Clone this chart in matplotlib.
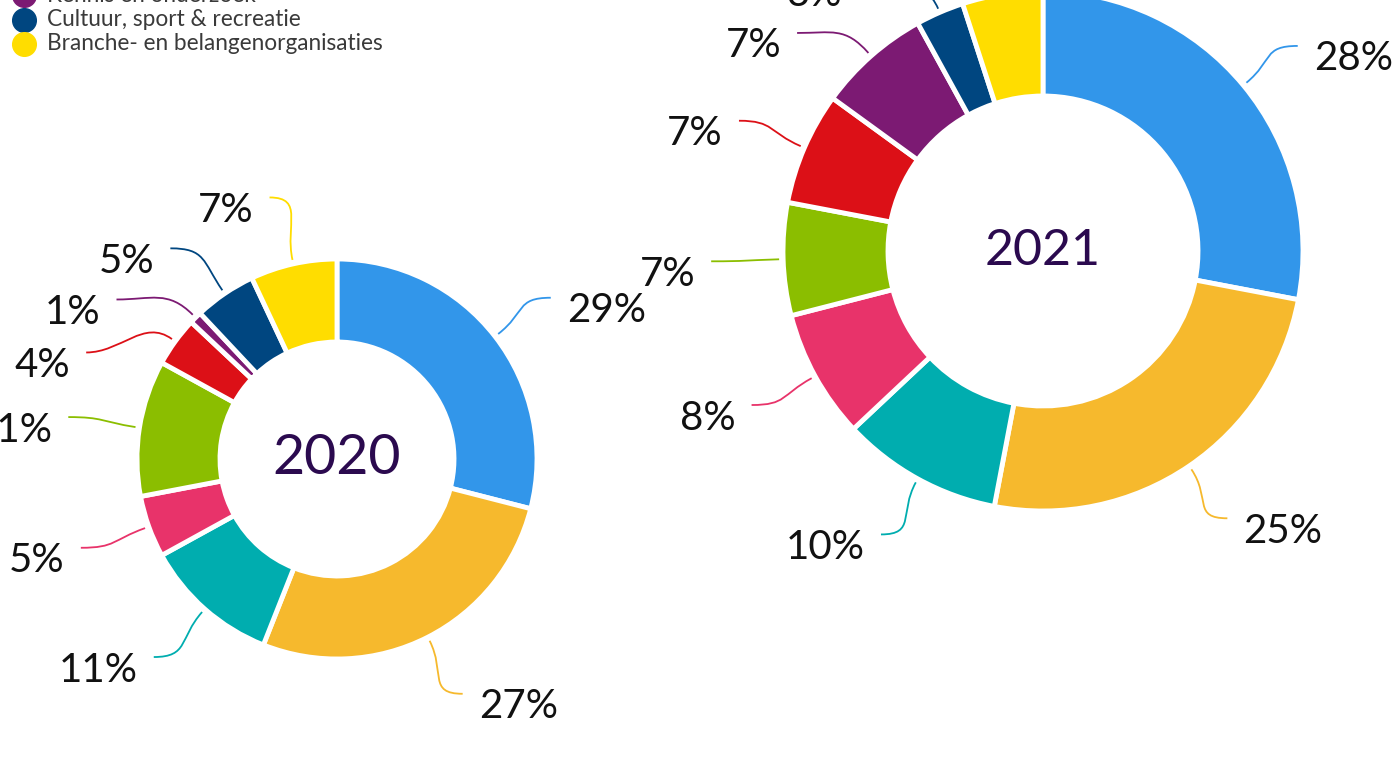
import numpy as np
import matplotlib.pyplot as plt
from matplotlib.path import Path
from matplotlib.patches import PathPatch

# data
colors = ["#3296EA", "#F6B92D", "#00ADAF", "#E8336A", "#8BBE00",
          "#DC1017", "#7C1A73", "#004680", "#FFDD00"]
values_2020 = [29, 27, 11, 5, 11, 4, 1, 5, 7]
values_2021 = [28, 25, 10, 8, 7, 7, 7, 3, 5]
legend_labels = ["Kennis en onderzoek", "Cultuur, sport & recreatie",
                 "Branche- en belangenorganisaties"]
legend_colors = ["#7C1A73", "#004680", "#FFDD00"]

# label nudges to keep crowded labels apart (pixels, x right / y up)
nudge_2020 = [(2, -3), (4, 4), (-6, 3), (-4, 2), (-4, 0), (-34, -51), (-31, -30), (-16, -11), (-9, 0)]
nudge_2021 = [(2, -4), (0, 4), (-4, 4), (-4, 4), (-4, 0), (-3, 0), (-29, -28), (-55, -32), (0, 0)]

W, H = 1396, 766
fig = plt.figure(figsize=(W / 100, H / 100), dpi=100)
ax = fig.add_axes([0, 0, 1, 1])
FONT = "Lato"


def donut(values, center, radius, width, nudges, year, yearsize):
    wedges, _ = ax.pie(values, colors=colors, startangle=90, counterclock=False,
                       center=center, radius=radius,
                       wedgeprops=dict(width=width, edgecolor="white", linewidth=3.5))
    cx, cy = center
    for w, v, col, (nx, ny) in zip(wedges, values, colors, nudges):
        ang = np.deg2rad((w.theta1 + w.theta2) / 2)
        u = np.array([np.cos(ang), np.sin(ang)])
        side = 1 if u[0] >= 0 else -1
        L = 64
        p0 = np.array([cx, cy]) + (radius + 4) * u
        p3 = p0 + L * u + np.array([nx, ny])
        p1 = p0 + 0.55 * L * u
        p2 = p3 - np.array([side * 0.55 * L, 0])
        path = Path([p0, p1, p2, p3], [Path.MOVETO, Path.CURVE4, Path.CURVE4, Path.CURVE4])
        ax.add_patch(PathPatch(path, fill=False, edgecolor=col, lw=1.3))
        ax.text(p3[0] + side * 16, p3[1] - 13, f"{v}%", fontsize=29, family=FONT,
                ha="left" if side > 0 else "right", va="center", color="#111111")
    ax.text(cx, cy, year, fontsize=yearsize, family=FONT,
            ha="center", va="center", color="#2B0A4F")


donut(values_2020, (337, H - 459), 200, 83, nudge_2020, "2020", 40)
donut(values_2021, (1043, H - 251), 260, 105, nudge_2021, "2021", 36)

# legend (cut off at top, as in the source)
for i, (lab, col) in enumerate(zip(legend_labels, legend_colors)):
    y = H + 5 - 24.5 * i
    ax.scatter([24], [y], s=290, color=col, clip_on=False, zorder=3)
    ax.text(47, y, lab, fontsize=16.3, family=FONT, va="center", color="#3A3A3A")

ax.set_xlim(0, W)
ax.set_ylim(0, H)
ax.set_aspect("equal")
ax.axis("off")
fig.savefig("out.png", dpi=100)
